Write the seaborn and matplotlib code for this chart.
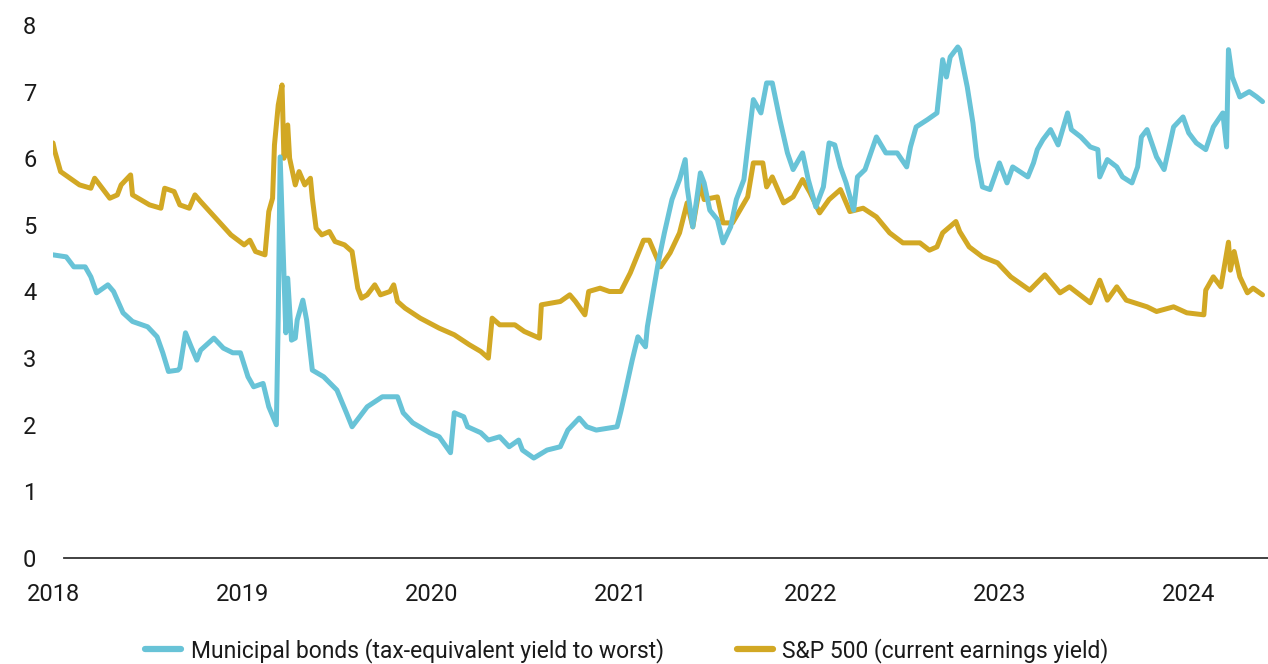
import numpy as np
import pandas as pd
import seaborn as sns
from matplotlib import pyplot as plt

MUNI_LABEL = "Municipal bonds (tax-equivalent yield to worst)"
SPX_LABEL = "S&P 500 (current earnings yield)"
MUNI_COLOR = "#68C3D7"
SPX_COLOR = "#D2A824"

years = [2018, 2019, 2020, 2021, 2022, 2023, 2024]
y_ticks = [0, 1, 2, 3, 4, 5, 6, 7, 8]

# time as decimal year, values in %
muni_t = [2018.00, 2018.07, 2018.11, 2018.17, 2018.20, 2018.23, 2018.29, 2018.32, 2018.37, 2018.42,
          2018.50, 2018.55, 2018.58, 2018.61, 2018.66, 2018.67, 2018.70, 2018.73, 2018.76, 2018.78,
          2018.85, 2018.90, 2018.95, 2018.99, 2019.03, 2019.06, 2019.11, 2019.14, 2019.18, 2019.19,
          2019.20, 2019.22, 2019.23, 2019.24, 2019.26, 2019.28, 2019.29, 2019.32, 2019.34, 2019.37,
          2019.43, 2019.50, 2019.55, 2019.58, 2019.66, 2019.74, 2019.82, 2019.85, 2019.90, 2019.99,
          2020.04, 2020.10, 2020.12, 2020.17, 2020.19, 2020.26, 2020.30, 2020.36, 2020.41, 2020.46,
          2020.48, 2020.54, 2020.61, 2020.68, 2020.72, 2020.78, 2020.82, 2020.87, 2020.98, 2021.00,
          2021.02, 2021.06, 2021.09, 2021.13, 2021.14, 2021.17, 2021.20, 2021.23, 2021.27, 2021.31,
          2021.34, 2021.35, 2021.38, 2021.42, 2021.44, 2021.47, 2021.51, 2021.54, 2021.58, 2021.61,
          2021.65, 2021.67, 2021.70, 2021.74, 2021.77, 2021.80, 2021.84, 2021.88, 2021.91, 2021.96,
          2021.99, 2022.03, 2022.07, 2022.10, 2022.13, 2022.16, 2022.19, 2022.23, 2022.25, 2022.29,
          2022.35, 2022.40, 2022.46, 2022.51, 2022.53, 2022.56, 2022.62, 2022.67, 2022.70, 2022.72,
          2022.74, 2022.78, 2022.79, 2022.83, 2022.86, 2022.88, 2022.91, 2022.95, 2023.00, 2023.04,
          2023.07, 2023.15, 2023.18, 2023.20, 2023.23, 2023.27, 2023.31, 2023.36, 2023.38, 2023.43,
          2023.48, 2023.52, 2023.53, 2023.57, 2023.62, 2023.65, 2023.70, 2023.73, 2023.75, 2023.78,
          2023.83, 2023.87, 2023.92, 2023.97, 2024.00, 2024.04, 2024.09, 2024.13, 2024.18, 2024.20,
          2024.21, 2024.23, 2024.27, 2024.32, 2024.36, 2024.39]
muni_y = [4.55, 4.52, 4.37, 4.37, 4.22, 3.98, 4.10, 4.00, 3.68, 3.55,
          3.47, 3.32, 3.08, 2.80, 2.82, 2.85, 3.38, 3.17, 2.97, 3.12,
          3.30, 3.15, 3.08, 3.08, 2.72, 2.57, 2.62, 2.27, 2.00, 3.62,
          6.02, 4.28, 3.38, 4.20, 3.27, 3.30, 3.57, 3.87, 3.57, 2.82,
          2.72, 2.52, 2.18, 1.97, 2.27, 2.42, 2.42, 2.18, 2.03, 1.88,
          1.82, 1.58, 2.18, 2.12, 1.97, 1.88, 1.77, 1.82, 1.67, 1.77,
          1.62, 1.50, 1.62, 1.67, 1.92, 2.10, 1.97, 1.92, 1.97, 2.20,
          2.45, 2.97, 3.32, 3.17, 3.47, 3.98, 4.47, 4.88, 5.38, 5.68,
          5.98, 5.57, 4.97, 5.78, 5.63, 5.22, 5.08, 4.73, 4.97, 5.38,
          5.68, 6.17, 6.88, 6.68, 7.13, 7.13, 6.58, 6.08, 5.83, 6.08,
          5.68, 5.27, 5.57, 6.23, 6.20, 5.87, 5.63, 5.22, 5.72, 5.83,
          6.32, 6.08, 6.08, 5.87, 6.17, 6.47, 6.58, 6.68, 7.48, 7.22,
          7.52, 7.67, 7.63, 7.07, 6.53, 6.02, 5.57, 5.53, 5.93, 5.63,
          5.87, 5.72, 5.93, 6.13, 6.28, 6.43, 6.20, 6.68, 6.43, 6.32,
          6.17, 6.13, 5.72, 5.98, 5.87, 5.72, 5.63, 5.87, 6.32, 6.43,
          6.02, 5.83, 6.47, 6.62, 6.38, 6.23, 6.13, 6.47, 6.68, 6.17,
          7.63, 7.22, 6.92, 7.00, 6.92, 6.85]

spx_t = [2018.00, 2018.01, 2018.04, 2018.09, 2018.14, 2018.20, 2018.22, 2018.30, 2018.34, 2018.36,
         2018.41, 2018.42, 2018.51, 2018.57, 2018.59, 2018.64, 2018.67, 2018.72, 2018.75, 2018.78,
         2018.86, 2018.94, 2019.01, 2019.04, 2019.07, 2019.12, 2019.14, 2019.16, 2019.17, 2019.19,
         2019.21, 2019.22, 2019.24, 2019.25, 2019.28, 2019.30, 2019.33, 2019.36, 2019.37, 2019.39,
         2019.42, 2019.46, 2019.49, 2019.54, 2019.58, 2019.61, 2019.63, 2019.66, 2019.70, 2019.73,
         2019.78, 2019.80, 2019.82, 2019.86, 2019.94, 2020.04, 2020.12, 2020.20, 2020.26, 2020.30,
         2020.32, 2020.36, 2020.44, 2020.49, 2020.57, 2020.58, 2020.68, 2020.73, 2020.76, 2020.81,
         2020.83, 2020.89, 2020.94, 2021.00, 2021.05, 2021.12, 2021.15, 2021.21, 2021.26, 2021.31,
         2021.35, 2021.38, 2021.42, 2021.44, 2021.51, 2021.54, 2021.59, 2021.67, 2021.70, 2021.75,
         2021.77, 2021.80, 2021.86, 2021.91, 2021.96, 2022.00, 2022.05, 2022.10, 2022.16, 2022.21,
         2022.28, 2022.35, 2022.42, 2022.49, 2022.58, 2022.63, 2022.67, 2022.70, 2022.77, 2022.79,
         2022.84, 2022.91, 2022.99, 2023.06, 2023.16, 2023.24, 2023.32, 2023.37, 2023.48, 2023.53,
         2023.57, 2023.62, 2023.67, 2023.78, 2023.83, 2023.92, 2023.99, 2024.08, 2024.09, 2024.13,
         2024.17, 2024.21, 2024.22, 2024.24, 2024.27, 2024.31, 2024.34, 2024.39]
spx_y = [6.23, 6.10, 5.80, 5.70, 5.60, 5.55, 5.70, 5.40, 5.45, 5.60,
         5.75, 5.45, 5.30, 5.25, 5.55, 5.50, 5.30, 5.25, 5.45, 5.35,
         5.10, 4.85, 4.70, 4.77, 4.60, 4.55, 5.20, 5.40, 6.20, 6.80,
         7.10, 6.00, 6.50, 6.00, 5.60, 5.80, 5.60, 5.70, 5.40, 4.95,
         4.85, 4.90, 4.75, 4.70, 4.60, 4.05, 3.90, 3.95, 4.10, 3.95,
         4.00, 4.10, 3.85, 3.75, 3.60, 3.45, 3.35, 3.20, 3.10, 3.00,
         3.60, 3.50, 3.50, 3.40, 3.30, 3.80, 3.85, 3.95, 3.85, 3.65,
         4.00, 4.05, 4.00, 4.00, 4.28, 4.77, 4.77, 4.37, 4.58, 4.88,
         5.33, 4.97, 5.63, 5.38, 5.42, 5.03, 5.03, 5.42, 5.93, 5.93,
         5.57, 5.72, 5.33, 5.42, 5.68, 5.48, 5.18, 5.38, 5.53, 5.20,
         5.25, 5.12, 4.88, 4.73, 4.73, 4.62, 4.67, 4.88, 5.05, 4.90,
         4.67, 4.52, 4.43, 4.22, 4.02, 4.25, 3.98, 4.07, 3.83, 4.17,
         3.87, 4.07, 3.87, 3.77, 3.70, 3.77, 3.68, 3.65, 4.02, 4.22,
         4.07, 4.74, 4.32, 4.60, 4.22, 3.98, 4.05, 3.95]

df = pd.concat([
    pd.DataFrame({"t": muni_t, "yield": muni_y, "series": MUNI_LABEL}),
    pd.DataFrame({"t": spx_t, "yield": spx_y, "series": SPX_LABEL}),
], ignore_index=True)

sns.set_style("white")
plt.rcParams['font.family'] = ['Roboto', 'DejaVu Sans']
plt.rcParams['text.color'] = '#1a1a1a'

W, H = 1268, 664
fig = plt.figure(figsize=(W / 100, H / 100), dpi=100)
ax = fig.add_axes([53 / W, (H - 558) / H, (W - 53) / W, (558 - 25) / H])

sns.lineplot(data=df, x="t", y="yield", hue="series", hue_order=[MUNI_LABEL, SPX_LABEL],
             palette=[MUNI_COLOR, SPX_COLOR], estimator=None, linewidth=3.6, ax=ax)
ax.lines[0].set_zorder(4)
ax.lines[1].set_zorder(3)

x_end = 2018 + (W - 53) * 0.005283
ax.set_xlim(2018, x_end)
ax.set_ylim(0, 8)
ax.set_xticks(years)
ax.set_xticklabels([str(y) for y in years])
ax.set_yticks(y_ticks)
ax.set_xlabel("")
ax.set_ylabel("")
ax.tick_params(axis='both', length=0, labelsize=17, colors='#1a1a1a')
ax.tick_params(axis='x', pad=18)
ax.tick_params(axis='y', pad=12)
for s in ['top', 'right', 'left']:
    ax.spines[s].set_visible(False)
ax.spines['bottom'].set_color('#333333')
ax.spines['bottom'].set_linewidth(1.3)
ax.spines['bottom'].set_bounds(2018 + 11 * 0.005283, x_end)
ax.grid(False)

handles, labels = ax.get_legend_handles_labels()
ax.get_legend().remove()
leg = fig.legend(handles, labels, loc='lower center', bbox_to_anchor=(627 / W, -0.029), ncol=2,
                 frameon=False, fontsize=16.5, handlelength=1.55, handletextpad=0.42, columnspacing=3.2)
for h in leg.get_lines():
    h.set_linewidth(4.5)

fig.savefig("out.png", dpi=100)
